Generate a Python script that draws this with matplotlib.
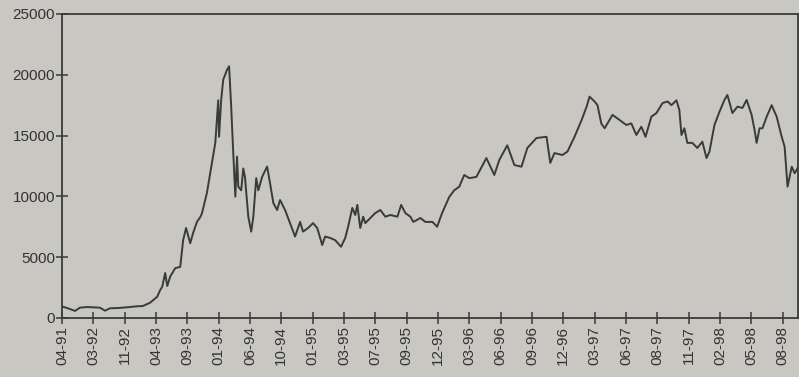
import matplotlib
matplotlib.use("Agg")
import matplotlib.pyplot as plt

# tick labels (month-year), one every 75 trading days
tick_labels = ["04-91", "03-92", "11-92", "04-93", "09-93", "01-94", "06-94",
               "10-94", "01-95", "03-95", "07-95", "09-95", "12-95", "03-96",
               "06-96", "09-96", "12-96", "03-97", "06-97", "08-97", "11-97",
               "02-98", "05-98", "08-98"]
days_per_tick = 75

# trading day index and index level
day = [2, 14, 31, 43, 60, 79, 91, 103, 115, 134, 156, 175, 194, 211, 223, 228,
       235, 240, 247, 252, 259, 271, 283, 290, 297, 307, 314, 323, 331, 335,
       347, 359, 367, 374, 376, 381, 386, 395, 400, 405, 410, 415, 419, 422,
       429, 434, 438, 446, 453, 458, 465, 470, 479, 491, 498, 506, 515, 522,
       534, 546, 558, 570, 577, 589, 601, 611, 623, 630, 642, 654, 668, 678,
       685, 695, 702, 707, 714, 721, 726, 738, 750, 762, 774, 786, 803, 812,
       822, 834, 841, 858, 870, 887, 898, 910, 927, 939, 951, 963, 975, 992,
       1016, 1035, 1047, 1066, 1083, 1100, 1114, 1136, 1160, 1169, 1179, 1198,
       1210, 1227, 1244, 1256, 1263, 1275, 1282, 1291, 1299, 1306, 1318, 1335,
       1351, 1363, 1375, 1387, 1397, 1411, 1423, 1438, 1450, 1459, 1471, 1478,
       1483, 1490, 1497, 1509, 1521, 1533, 1543, 1550, 1562, 1574, 1586, 1593,
       1605, 1617, 1629, 1639, 1651, 1658, 1663, 1670, 1677, 1687, 1699, 1711,
       1723, 1730, 1737, 1747, 1754, 1763]
level = [930, 800, 580, 850, 900, 870, 850, 600, 800, 820, 880, 950, 990, 1260,
         1600, 1750, 2300, 2570, 3700, 2630, 3400, 4100, 4200, 6400, 7400, 6150,
         7000, 7900, 8300, 8600, 10300, 12750, 14400, 17900, 14900, 17900,
         19600, 20400, 20700, 17400, 13550, 9980, 13270, 10800, 10500, 12300,
         11600, 8330, 7100, 8330, 11500, 10500, 11600, 12450, 11100, 9450, 8880,
         9700, 8880, 7800, 6700, 7900, 7100, 7400, 7800, 7400, 6000, 6700, 6580,
         6400, 5860, 6580, 7500, 9050, 8470, 9300, 7400, 8330, 7800, 8220, 8630,
         8880, 8330, 8470, 8330, 9300, 8630, 8330, 7900, 8220, 7900, 7900, 7500,
         8630, 9950, 10500, 10800, 11760, 11500, 11600, 13150, 11760, 13000,
         14200, 12580, 12440, 13980, 14800, 14900, 12750, 13560, 13400, 13680,
         14900, 16280, 17380, 18200, 17800, 17500, 16000, 15600, 16000, 16700,
         16280, 15870, 16000, 15050, 15730, 14900, 16550, 16850, 17680, 17800,
         17500, 17900, 17100, 15050, 15600, 14400, 14400, 13980, 14500, 13150,
         13680, 15870, 16960, 17930, 18340, 16850, 17380, 17270, 17930, 16700,
         15460, 14400, 15600, 15600, 16550, 17500, 16550, 14900, 14080, 10800,
         12440, 11900, 12440]

paper = "#c9c7c2"
ink = "#3a3a3a"

plt.rcParams["font.family"] = "Liberation Sans"

fig = plt.figure(figsize=(7.99, 3.77), dpi=100, facecolor=paper)
ax = fig.add_axes([0.0776, 0.1565, 0.9214, 0.8065])
ax.set_facecolor(paper)

ax.plot(day, level, color=ink, linewidth=1.4)

ax.set_ylim(0, 25000)
ax.set_yticks(range(0, 25001, 5000))
ax.set_xlim(0, 23.5 * days_per_tick)
ax.set_xticks([i * days_per_tick for i in range(len(tick_labels))])
ax.set_xticklabels(tick_labels, rotation=90)

for s in ax.spines.values():
    s.set_color(ink)
    s.set_linewidth(1.3)

ax.tick_params(axis="both", direction="inout", length=8, width=1.1,
               color=ink, labelcolor="#333333", labelsize=11)
ax.tick_params(axis="x", pad=2)
ax.tick_params(axis="y", pad=1)

fig.savefig("out.png", dpi=100, facecolor=paper)
